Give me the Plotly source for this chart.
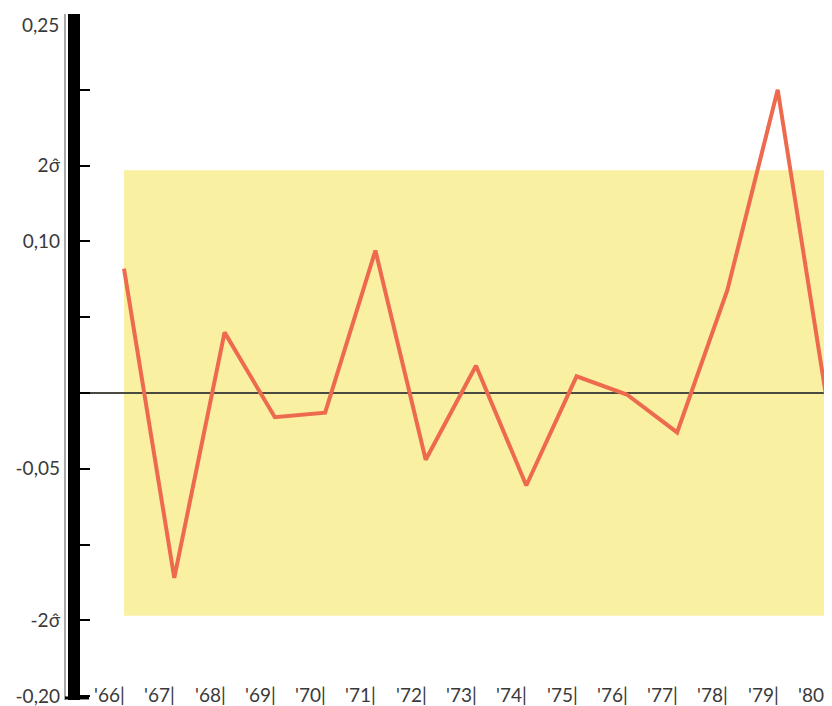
import plotly.graph_objects as go

years = list(range(1966, 1981))
year_labels = ["'66", "'67", "'68", "'69", "'70", "'71", "'72", "'73", "'74", "'75",
               "'76", "'77", "'78", "'79", "'80"]
values = [0.082, -0.122, 0.040, -0.016, -0.013, 0.094, -0.044, 0.018, -0.061, 0.011,
          -0.001, -0.026, 0.068, 0.200, -0.010]
two_sigma = 0.147
ytick_vals = [0.25, 0.20, 0.15, 0.10, 0.05, 0.0, -0.05, -0.10, -0.15, -0.20]
ytick_text = ["", "", "2σ̂", "0,10", "", "", "-0,05", "", "-2σ̂", "-0,20"]
top_label = "0,25"

FONT = "Lato, 'Open Sans', sans-serif"
TXT = "#3a3a3a"

fig = go.Figure()

fig.add_trace(go.Scatter(
    x=years, y=values, mode="lines",
    line=dict(color="#EE6A4E", width=4),
    hoverinfo="skip", showlegend=False,
))

shapes = []
# 2-sigma band
shapes.append(dict(type="rect", xref="x", yref="y", x0=years[0], x1=1980.2,
                   y0=-two_sigma, y1=two_sigma, fillcolor="#FAF0A2",
                   line=dict(width=0), layer="below"))
# thick black axis bar
shapes.append(dict(type="rect", xref="paper", yref="paper", xsizemode="pixel",
                   xanchor=0, x0=-12, x1=0, y0=0.0, y1=1.0,
                   fillcolor="#000000", line=dict(width=0)))
# thin gray line left of bar
shapes.append(dict(type="line", xref="paper", yref="paper", xsizemode="pixel",
                   xanchor=0, x0=-15, x1=-15, y0=0.0, y1=1.0,
                   line=dict(color="#555555", width=1)))
# foot at bottom of bar
shapes.append(dict(type="line", xref="paper", yref="paper", xsizemode="pixel",
                   xanchor=0, x0=-15, x1=9, y0=0.003, y1=0.003,
                   line=dict(color="#000000", width=3)))
# right gray border line
shapes.append(dict(type="line", xref="paper", yref="paper", xsizemode="pixel",
                   xanchor=1, x0=-1, x1=-1, y0=0.0, y1=1.0,
                   line=dict(color="#777777", width=1.5)))

annotations = []
for yr, lab in zip(years, year_labels):
    annotations.append(dict(x=yr, y=-0.2, xref="x", yref="y", text=lab + "|",
                            showarrow=False, xanchor="right", yanchor="middle",
                            xshift=3, yshift=2,
                            font=dict(family=FONT, size=19, color=TXT)))
# top y label, nudged down so it stays inside the page
annotations.append(dict(x=0, y=ytick_vals[0], xref="paper", yref="y", text=top_label,
                        showarrow=False, xanchor="right", yanchor="top",
                        xshift=-19, yshift=3,
                        font=dict(family=FONT, size=19, color=TXT)))

# page body has an 8px margin: figure is sized/offset to compensate
fig.update_layout(
    width=824, height=698,
    margin=dict(l=72, r=2, t=6, b=6, autoexpand=False),
    paper_bgcolor="white", plot_bgcolor="rgba(0,0,0,0)",
    shapes=shapes, annotations=annotations,
    xaxis=dict(range=[1965.125, 1980.04], showgrid=False, zeroline=False,
               showticklabels=False, ticks="", showline=False, fixedrange=True,
               automargin=False),
    yaxis=dict(range=[-0.2025, 0.25], showgrid=False, zeroline=True,
               zerolinecolor="#4a4a40", zerolinewidth=1.5,
               tickvals=ytick_vals, ticktext=ytick_text,
               ticks="inside", ticklen=10, tickwidth=1.5, tickcolor="#000000",
               ticklabelstandoff=19, ticklabeloverflow="allow",
               tickfont=dict(family=FONT, size=19, color=TXT),
               showline=False, fixedrange=True, automargin=False),
)

fig.write_html("out.html")
